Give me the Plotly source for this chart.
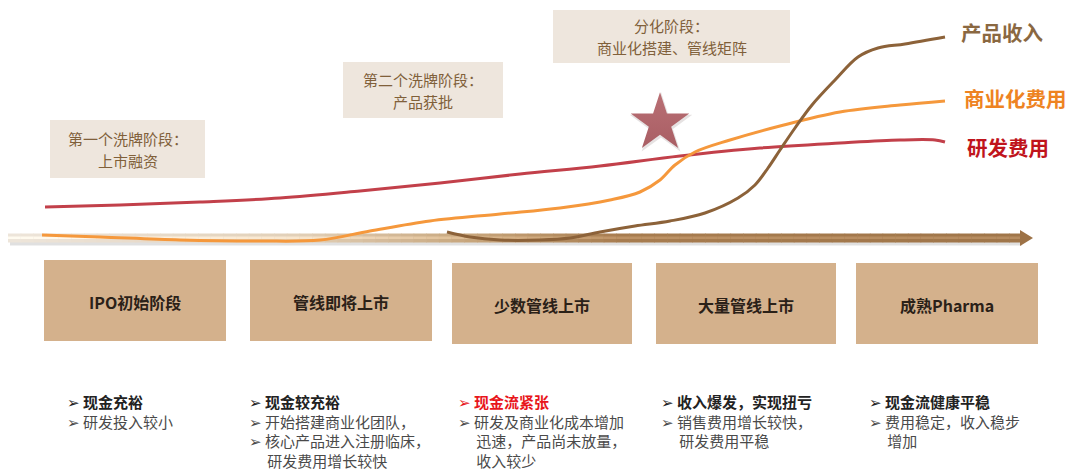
import numpy as np
import plotly.graph_objects as go

W, H = 1071, 469
CJK = "Noto Sans CJK SC, DejaVu Sans, sans-serif"

# ---- curve data (horizontal position, height on canvas) ----
rd_x = [45, 120, 200, 280, 360, 440, 520, 600, 680, 760, 840, 900, 935, 945]
rd_y = [207, 205, 202, 198, 191, 183, 174, 166, 156, 148, 143, 140, 140, 142]

comm_x = [42, 100, 180, 260, 320, 370, 430, 500, 560, 610, 640, 660, 675, 695, 730, 780, 840, 900, 945]
comm_y = [235, 237, 240, 241, 240, 231, 221, 214, 208, 200, 192, 180, 165, 152, 140, 126, 112, 105, 101]

rev_x = [447, 470, 500, 540, 570, 600, 635, 670, 705, 738, 755, 768, 780, 795, 812, 835, 858, 878, 905, 945]
rev_y = [232, 237, 240, 240, 238, 232, 226, 221, 213, 198, 185, 168, 150, 128, 105, 80, 57, 48, 44, 37]

series_names = ["产品收入", "商业化费用", "研发费用"]
series_colors = ["#8a6841", "#ee8322", "#c0141c"]
line_colors = ["#8c6239", "#f5983c", "#c2404a"]

# ---- stage boxes ----
stage_labels = ["IPO初始阶段", "管线即将上市", "少数管线上市", "大量管线上市", "成熟Pharma"]
stage_x0 = [44, 250, 452, 656, 856]
stage_x1 = [226, 432, 632, 836, 1038]
stage_y0 = [260, 260, 263, 263, 263]
stage_y1 = [341, 341, 344, 344, 344]

# ---- phase callouts ----
phase_lines = [["第一个洗牌阶段：", "上市融资"],
               ["第二个洗牌阶段：", "产品获批"],
               ["分化阶段：", "商业化搭建、管线矩阵"]]
phase_box = [(50, 120, 205, 178), (343, 62, 503, 118), (553, 10, 790, 63)]

# ---- bullet notes under each stage ----
# b = bold heading, r = red heading, n = bullet item, c = continuation line
notes = [
    [("b", "现金充裕"), ("n", "研发投入较小")],
    [("b", "现金较充裕"), ("n", "开始搭建商业化团队，"), ("n", "核心产品进入注册临床，"), ("c", "研发费用增长较快")],
    [("r", "现金流紧张"), ("n", "研发及商业化成本增加"), ("c", "迅速，产品尚未放量，"), ("c", "收入较少")],
    [("b", "收入爆发，实现扭亏"), ("n", "销售费用增长较快，"), ("c", "研发费用平稳")],
    [("b", "现金流健康平稳"), ("n", "费用稳定，收入稳步"), ("c", "增加")],
]
note_x = [66, 248, 457, 660, 868]
note_top = 390

fig = go.Figure()
shapes = []
annos = []

# timeline arrow with a light-to-brown gradient
bar_x0, bar_x1, bar_yc, bar_h = 8, 1022, 238, 9
shapes.append(dict(type="rect", xref="x", yref="y", x0=bar_x0 + 2, x1=bar_x1, y0=bar_yc - bar_h / 2 + 3,
                   y1=bar_yc + bar_h / 2 + 3, fillcolor="rgba(0,0,0,0.12)", line_width=0, layer="below"))
stops_x = [bar_x0, 300, 470, 620, bar_x1]
stops_c = [(238, 230, 219), (226, 208, 184), (200, 166, 124), (168, 125, 80), (160, 118, 74)]
n_seg = 80
edges = np.linspace(bar_x0, bar_x1, n_seg + 1)
for i in range(n_seg):
    xm = 0.5 * (edges[i] + edges[i + 1])
    c = [np.interp(xm, stops_x, [s[k] for s in stops_c]) for k in range(3)]
    shapes.append(dict(type="rect", xref="x", yref="y", x0=edges[i], x1=edges[i + 1] + 0.6,
                       y0=bar_yc - bar_h / 2, y1=bar_yc + bar_h / 2,
                       fillcolor="rgb(%d,%d,%d)" % tuple(int(v) for v in c), line_width=0, layer="below"))
    hl = [min(255, v + 22) for v in c]
    shapes.append(dict(type="rect", xref="x", yref="y", x0=edges[i], x1=edges[i + 1] + 0.6,
                       y0=bar_yc - 1.5, y1=bar_yc + 1,
                       fillcolor="rgb(%d,%d,%d)" % tuple(int(v) for v in hl), line_width=0, layer="below"))
shapes.append(dict(type="path", xref="x", yref="y",
                   path="M %d %d L %d %d L %d %d Z" % (bar_x1 - 2, bar_yc - 8, bar_x1 + 11, bar_yc, bar_x1 - 2, bar_yc + 8),
                   fillcolor="#9d7246", line_width=0, layer="below"))

# stage boxes
for lab, x0, x1, y0, y1 in zip(stage_labels, stage_x0, stage_x1, stage_y0, stage_y1):
    shapes.append(dict(type="rect", xref="x", yref="y", x0=x0, x1=x1, y0=y0, y1=y1,
                       fillcolor="#d4b18c", line_width=0, layer="below"))
    annos.append(dict(x=(x0 + x1) / 2, y=(y0 + y1) / 2 + 1, xref="x", yref="y", text="<b>%s</b>" % lab,
                      showarrow=False, font=dict(family=CJK, size=16, color="#2b2118")))

# phase callouts
for lines, (x0, y0, x1, y1) in zip(phase_lines, phase_box):
    shapes.append(dict(type="rect", xref="x", yref="y", x0=x0, x1=x1, y0=y0, y1=y1,
                       fillcolor="#eee6dd", line_width=0, layer="below"))
    cy = (y0 + y1) / 2
    for j, t in enumerate(lines):
        annos.append(dict(x=(x0 + x1) / 2, y=cy + (j - 0.5) * 22, xref="x", yref="y", text=t,
                          showarrow=False, font=dict(family=CJK, size=15, color="#80603a")))

# curves
for xs, ys, col, nm in [(rd_x, rd_y, line_colors[2], series_names[2]),
                        (comm_x, comm_y, line_colors[1], series_names[1]),
                        (rev_x, rev_y, line_colors[0], series_names[0])]:
    fig.add_trace(go.Scatter(x=xs, y=ys, mode="lines", name=nm,
                             line=dict(color=col, width=3, shape="spline", smoothing=1.0),
                             hoverinfo="skip"))

# series labels at the right end
label_pos = [(959, 32), (962, 98), (965, 147)]
for nm, col, (lx, ly) in zip(series_names, series_colors, label_pos):
    annos.append(dict(x=lx, y=ly, xref="x", yref="y", text="<b>%s</b>" % nm, xanchor="left",
                      showarrow=False, font=dict(family=CJK, size=20.5, color=col)))

# milestone star
star_pos = ([660], [123])
fig.add_trace(go.Scatter(x=[star_pos[0][0] + 1], y=[star_pos[1][0] + 2], mode="markers",
                         marker=dict(symbol="star", size=47, color="rgba(90,60,60,0.15)", line_width=0),
                         hoverinfo="skip"))
fig.add_trace(go.Scatter(x=star_pos[0], y=star_pos[1], mode="markers",
                         marker=dict(symbol="star", size=44, color="#b96f74", line_width=0,
                                     gradient=dict(type="vertical", color="#a95e64")),
                         hoverinfo="skip"))

# bullet notes: one text block per stage column
BUL = "➢ "
INDENT = "\u3000 "
for col, nx in zip(notes, note_x):
    rows = []
    for kind, t in col:
        if kind == "b":
            rows.append('<span style="color:#222222">%s<b>%s</b></span>' % (BUL, t))
        elif kind == "r":
            rows.append('<span style="color:#e8161b">%s<b>%s</b></span>' % (BUL, t))
        elif kind == "n":
            rows.append(BUL + t)
        else:
            rows.append(INDENT + t)
    annos.append(dict(x=nx, y=note_top, xref="x", yref="y", text="<br>".join(rows),
                      xanchor="left", yanchor="top", align="left", showarrow=False, borderpad=0,
                      font=dict(family=CJK, size=15, color="#4a4a4a")))

fig.update_layout(
    width=W, height=H, margin=dict(l=0, r=0, t=0, b=0),
    paper_bgcolor="white", plot_bgcolor="white", showlegend=False,
    xaxis=dict(range=[0, W], visible=False, fixedrange=True),
    yaxis=dict(range=[H, 0], visible=False, fixedrange=True),
    shapes=shapes, annotations=annos,
)
fig.write_html("out.html")
